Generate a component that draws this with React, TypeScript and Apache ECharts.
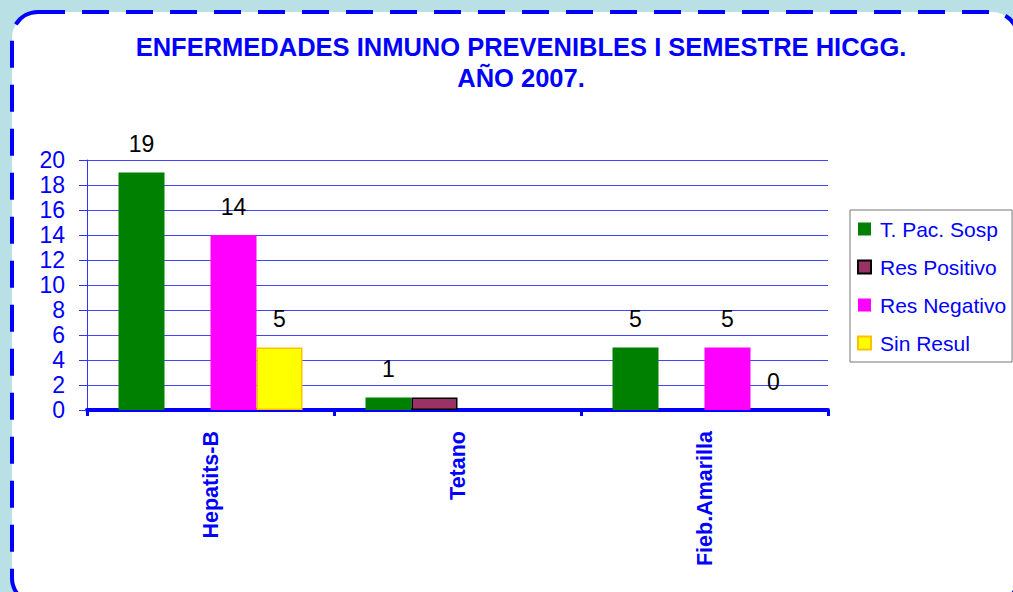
import React, { useEffect, useRef } from "react";
import * as echarts from "echarts";

const categories = ["Hepatits-B", "Tetano", "Fieb.Amarilla"];
const seriesNames = ["T. Pac. Sosp", "Res Positivo", "Res Negativo", "Sin Resul"];
const tPacSosp = [19, 1, 5];
const resPositivo = [null, 1, null];
const resNegativo = [14, null, 5];
const sinResul = [5, null, 0];
const yTicks = [0, 2, 4, 6, 8, 10, 12, 14, 16, 18, 20];

const FONT = "'Liberation Sans', Arial, sans-serif";
const BLUE = "#0000ff";

export default function App() {
  const ref = useRef<HTMLDivElement>(null);
  useEffect(() => {
    if (!ref.current) return;
    const chart = echarts.init(ref.current, null, { renderer: "svg" });
    const label = (show: boolean) => ({
      show,
      position: "top",
      distance: 17,
      color: "#000",
      fontSize: 23,
      fontFamily: FONT,
    });
    const values = [tPacSosp, resPositivo, resNegativo, sinResul];
    const styles = [
      { color: "#008000" },
      { color: "#993366", borderColor: "#000", borderWidth: 1.5 },
      { color: "#ff00ff" },
      { color: "#ffff00", borderColor: "#ffc000", borderWidth: 1.5 },
    ];
    chart.setOption({
      animation: false,
      backgroundColor: "#b9e0e5",
      graphic: [
        {
          type: "rect",
          z: -10,
          shape: { x: 12, y: 12, width: 1006, height: 592, r: 26 },
          style: { fill: "#fff", stroke: BLUE, lineWidth: 4, lineDash: [27, 17] },
          silent: true,
        },
      ],
      title: {
        text: "ENFERMEDADES INMUNO PREVENIBLES I SEMESTRE HICGG.\nAÑO 2007.",
        left: 516,
        textAlign: "center",
        top: 26,
        textStyle: {
          color: BLUE,
          fontSize: 25.5,
          fontWeight: "bold",
          fontFamily: FONT,
          lineHeight: 31,
        },
      },
      legend: {
        orient: "vertical",
        left: 850,
        top: 210,
        padding: [8.5, 6, 8.5, 7],
        borderColor: "#777",
        borderWidth: 1,
        itemWidth: 13,
        itemHeight: 13,
        itemGap: 17,
        data: seriesNames.map((n) => ({ name: n, icon: "rect" })),
        textStyle: { color: BLUE, fontSize: 21, fontFamily: FONT, padding: [0, 0, 0, 4] },
      },
      grid: { left: 87, right: 185, top: 160, bottom: 182 },
      xAxis: {
        type: "category",
        data: categories,
        axisLine: { lineStyle: { color: BLUE, width: 4 } },
        axisTick: { show: true, length: 6, lineStyle: { color: BLUE, width: 3 } },
        axisLabel: {
          rotate: 90,
          margin: 21,
          color: BLUE,
          fontSize: 21.5,
          fontWeight: "bold",
          fontFamily: FONT,
        },
      },
      yAxis: {
        type: "value",
        min: 0,
        max: 20,
        interval: 2,
        axisLine: { show: true, lineStyle: { color: "#3333ff", width: 1 } },
        axisTick: { show: true, length: 8, lineStyle: { color: "#3333ff" } },
        splitLine: { show: true, lineStyle: { color: "#4444ff", width: 1 } },
        axisLabel: {
          color: BLUE,
          fontSize: 23,
          fontFamily: FONT,
          margin: 22,
          formatter: (v: number) => (yTicks.includes(v) ? String(v) : ""),
        },
      },
      series: seriesNames.map((name, i) => ({
        name,
        type: "bar",
        data: values[i].map((v) =>
          v === 0
            ? { value: v, itemStyle: { borderWidth: 0, color: "rgba(0,0,0,0)" } }
            : v
        ),
        barWidth: 46,
        barGap: "0%",
        itemStyle: styles[i],
        label: label(i !== 1),
      })),
    });
    return () => chart.dispose();
  }, []);
  return (
    <div
      ref={ref}
      style={{ position: "fixed", left: 0, top: 0, width: 1013, height: 592 }}
    />
  );
}
